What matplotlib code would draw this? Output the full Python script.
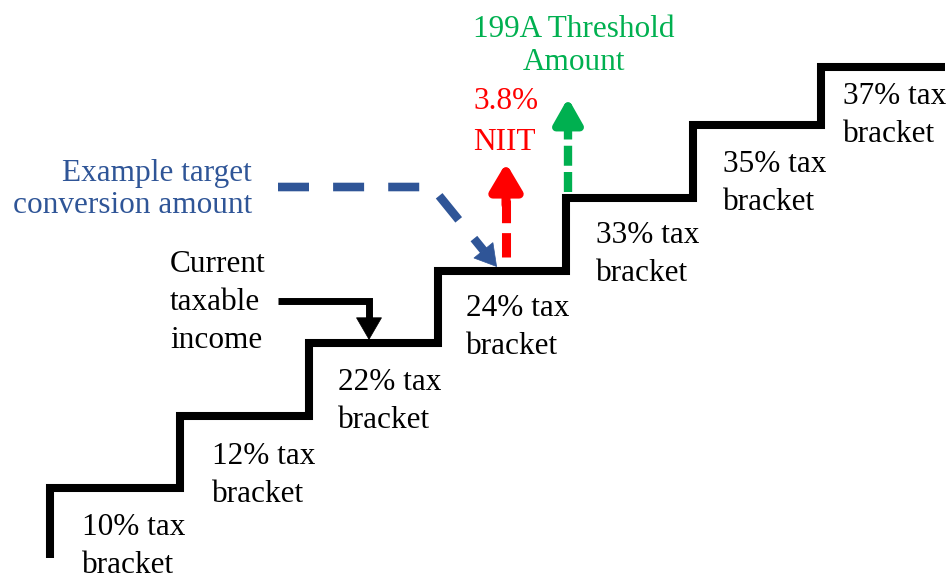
import numpy as np
import matplotlib
matplotlib.use('Agg')
import matplotlib.pyplot as plt
from matplotlib.patches import FancyArrowPatch

plt.rcParams['font.family'] = ['Liberation Serif', 'DejaVu Serif']

# staircase of federal brackets (drawing units = pixels, y grows downward)
step_edges = [50, 180, 309, 438, 566, 693, 821, 945]
step_levels = [488, 416, 343, 271, 198, 125, 67]
stair_bottom = 558
brackets = ['10%', '12%', '22%', '24%', '33%', '35%', '37%']

# markers on the stairs
current_income_x = 369
target_x = 497
niit_x = 506
threshold_x = 568

BLUE = '#2F5597'
GREEN = '#00B050'
RED = '#FF0000'
FS = 22.5

fig = plt.figure(figsize=(9.51, 5.75), dpi=100)
ax = fig.add_axes([0, 0, 1, 1])
ax.set_xlim(0, 951)
ax.set_ylim(575, 0)
ax.axis('off')

# stairs
xs = [step_edges[0]]
ys = [stair_bottom]
for i, lvl in enumerate(step_levels):
    xs += [step_edges[i], step_edges[i + 1]]
    ys += [lvl, lvl]
ax.plot(xs, ys, color='black', lw=5.8, solid_joinstyle='miter', solid_capstyle='butt')

# bracket labels (y = baseline of the second line)
label_dx = [32, 32, 29, 28, 30, 30, 22]
label_dy = [85, 86, 85, 83, 83, 85, 75]
for i, b in enumerate(brackets):
    ax.text(step_edges[i] + label_dx[i], step_levels[i] + label_dy[i], b + ' tax\nbracket',
            fontsize=FS, ha='left', va='baseline', linespacing=1.4)


def head(tip, back, color, hl, hw, lw, round_=False):
    p = FancyArrowPatch(back, tip, arrowstyle=f'-|>,head_length={hl},head_width={hw}',
                        mutation_scale=1, shrinkA=0, shrinkB=0, color=color, lw=lw,
                        joinstyle='round' if round_ else 'miter',
                        capstyle='round' if round_ else 'butt')
    ax.add_patch(p)


# current taxable income arrow
lvl22 = step_levels[2]
ax.plot([278, current_income_x, current_income_x], [301, 301, 322], color='black', lw=5,
        solid_joinstyle='miter', solid_capstyle='butt')
head((current_income_x, lvl22 - 3), (current_income_x, lvl22 - 27), 'black', 15.5, 9, 0.5)
ax.text(170, 348, 'Current\ntaxable\nincome', fontsize=FS, ha='left', va='baseline', linespacing=1.42)

# example target conversion (blue dashed)
tip = np.array([target_x, step_levels[3] - 4])
d = np.array([65, 80]) / np.hypot(65, 80)
base = tip - 21 * d
ax.plot([278, 432, base[0]], [187, 187, base[1]], color=BLUE, lw=6.2,
        linestyle=(0, (3.6, 2.8)), solid_joinstyle='miter', dash_capstyle='butt')
head(tuple(tip), tuple(tip - 24 * d), BLUE, 15, 8.8, 0.5)
ax.text(252, 213, 'Example target\nconversion amount', fontsize=FS, ha='right', va='baseline',
        color=BLUE, linespacing=1.12)

# 3.8% NIIT (red dashed up)
ax.plot([niit_x, niit_x], [step_levels[3] - 14, 200], color=RED, lw=6.5,
        linestyle=(0, (2.7, 1.1)), dash_capstyle='butt')
head((niit_x, 163), (niit_x, 205), RED, 16, 9.5, 6.5, round_=True)
ax.text(473, 150, '3.8%\nNIIT', fontsize=FS, ha='left', va='baseline', color=RED, linespacing=1.55)

# 199A threshold (green dashed up)
ax.plot([threshold_x, threshold_x], [step_levels[4] - 6, 128], color=GREEN, lw=6,
        linestyle=(0, (2.4, 0.75)), dash_capstyle='butt')
head((threshold_x, 98), (threshold_x, 128), GREEN, 15, 8.5, 6, round_=True)
ax.text(574, 70, '199A Threshold\nAmount', fontsize=FS, ha='center', va='baseline', color=GREEN,
        linespacing=1.2, multialignment='center')

fig.savefig('out.png', dpi=100)
